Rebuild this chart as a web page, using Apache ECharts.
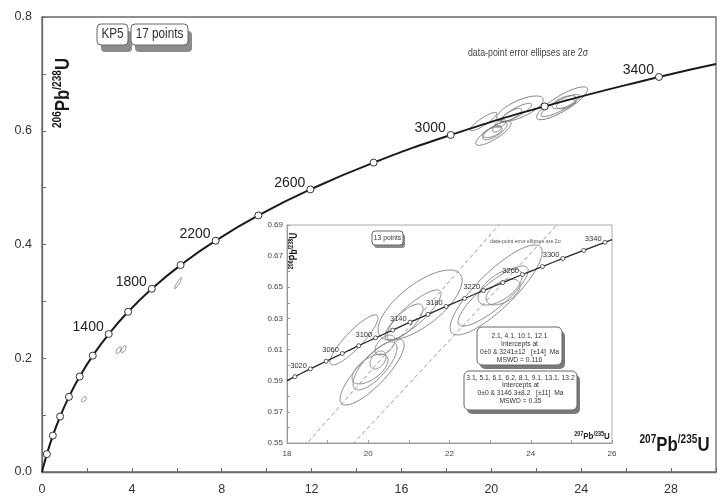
<!DOCTYPE html>
<html><head><meta charset="utf-8">
<script src="https://cdn.jsdelivr.net/npm/echarts@6/dist/echarts.min.js"></script>
<style>html,body{margin:0;padding:0;background:#fff}#c{width:722px;height:500px}</style>
</head><body><div id="c"></div>
<script>
const FONT = '"Liberation Sans", Arial, Helvetica, sans-serif';
const SQ = 0.84; // horizontal squeeze of the reference's lettering

// Concordia reference points: age (Ma), 207Pb/235U, 206Pb/238U
const concAges = [0, 100, 200, 400, 600, 800, 1000, 1200, 1400, 1600, 1800, 2000, 2200, 2400, 2600, 2800, 3000, 3200, 3400, 3487];
const concX = [0, 0.1035, 0.2177, 0.4828, 0.8056, 1.1987, 1.6774, 2.2603, 2.9701, 3.8344, 4.8869, 6.1685, 7.7292, 9.6296, 11.9437, 14.7617, 18.1931, 22.3716, 27.4597, 30.0];
const concY = [0, 0.01563, 0.03151, 0.0640, 0.0975, 0.1321, 0.1678, 0.2046, 0.2426, 0.2817, 0.3221, 0.3638, 0.4067, 0.4511, 0.4968, 0.5440, 0.5926, 0.6428, 0.6946, 0.7175];
const mainLabelAges = [1400, 1800, 2200, 2600, 3000, 3400];

// Inset concordia (20 Ma marks)
const insetAges = [2989.7, 3000, 3020, 3040, 3060, 3080, 3100, 3120, 3140, 3160, 3180, 3200, 3220, 3240, 3260, 3280, 3300, 3320, 3340, 3346.5];
const insetX = [18.0, 18.1931, 18.5749, 18.9642, 19.3614, 19.7664, 20.1795, 20.6008, 21.0305, 21.4687, 21.9156, 22.3715, 22.8364, 23.3105, 23.7941, 24.2873, 24.7903, 25.3034, 25.8266, 26.0];
const insetY = [0.5901, 0.5926, 0.5976, 0.6025, 0.6075, 0.6125, 0.6175, 0.6225, 0.6276, 0.6326, 0.6377, 0.6428, 0.6479, 0.6530, 0.6582, 0.6633, 0.6685, 0.6737, 0.6789, 0.6806];
const insetLabelAges = [3020, 3060, 3100, 3140, 3180, 3220, 3260, 3300, 3340];

// 13 clustered analyses: centre, 2-sigma half-extents, error correlation
const clusterX = [19.650, 20.094, 20.044, 20.241, 20.167, 21.276, 21.103, 20.906, 20.414, 23.148, 23.074, 23.246, 23.320];
const clusterY = [0.6162, 0.5956, 0.5975, 0.6033, 0.5995, 0.6386, 0.6322, 0.6277, 0.6129, 0.6483, 0.6444, 0.6502, 0.6470];
const clusterEx = [0.591, 0.788, 0.443, 0.197, 0.542, 1.034, 0.690, 0.443, 0.246, 1.133, 0.862, 0.542, 0.419];
const clusterEy = [0.0161, 0.0212, 0.0096, 0.0058, 0.0154, 0.0225, 0.0161, 0.0116, 0.0064, 0.0289, 0.0193, 0.0116, 0.0083];
const clusterRho = [0.88, 0.82, 0.60, 0.40, 0.75, 0.70, 0.85, 0.75, 0.50, 0.84, 0.85, 0.60, 0.50];

// 4 discordant analyses (main plot only)
const discX = [6.06, 3.41, 3.63, 1.87];
const discY = [0.332, 0.214, 0.2158, 0.128];
const discEx = [0.156, 0.11, 0.11, 0.11];
const discEy = [0.0096, 0.006, 0.006, 0.0044];
const discRho = [0.92, 0.6, 0.6, 0.5];

// Discordia upper intercepts (lower intercept 0)
const interceptAge = [3146.3, 3241];
const interceptX = [21.1676, 23.3345];
const interceptY = [0.62917, 0.65328];

const clusterData = clusterX.map((x, i) => [x, clusterY[i], clusterEx[i], clusterEy[i], clusterRho[i]]);
const discData = discX.map((x, i) => [x, discY[i], discEx[i], discEy[i], discRho[i]]);

function ellipseRender(color, lw) {
  return function (params, api) {
    const cx = api.value(0), cy = api.value(1), ex = api.value(2), ey = api.value(3), r = api.value(4);
    const s = Math.sqrt(1 - r * r);
    const pts = [];
    for (let k = 0; k < 96; k++) {
      const t = k / 96 * Math.PI * 2;
      pts.push(api.coord([cx + ex * Math.cos(t), cy + ey * (r * Math.cos(t) + s * Math.sin(t))]));
    }
    return { type: 'polygon', shape: { points: pts }, style: { fill: 'none', stroke: color, lineWidth: lw } };
  };
}

function richTitle(big, small) {
  return {
    b: { fontSize: big, fontWeight: 'bold', fontFamily: FONT, fill: '#1a1a1a', lineHeight: Math.round(big * 1.15) },
    s: { fontSize: small, fontWeight: 'bold', fontFamily: FONT, fill: '#1a1a1a', lineHeight: small, verticalAlign: 'top', textVerticalAlign: 'top' }
  };
}
function textEl(x, y, text, size, opts) {
  opts = opts || {};
  return {
    type: 'text', x: x, y: y, z: opts.z || 102, rotation: opts.rotation || 0, scaleX: SQ, scaleY: 1,
    style: Object.assign({
      text: text, fontSize: size, fontFamily: FONT, fill: opts.fill || '#333',
      align: 'center', textAlign: 'center', verticalAlign: 'middle', textVerticalAlign: 'middle'
    }, opts.style || {})
  };
}
function boxEls(x, y, w, h, r, sdx, sdy, shadow) {
  return [
    { type: 'rect', z: 100, shape: { x: x + sdx, y: y + sdy, width: w, height: h, r: r }, style: { fill: shadow } },
    { type: 'rect', z: 101, shape: { x: x, y: y, width: w, height: h, r: r }, style: { fill: '#fff', stroke: '#666', lineWidth: 1 } }
  ];
}

const mainMarkers = concAges.map((a, i) => [concX[i], concY[i], a]).filter(d => d[2] > 0 && d[2] % 200 === 0);
const insetMarkers = insetAges.map((a, i) => [insetX[i], insetY[i], a]).filter(d => d[2] % 20 === 0);

const chart = echarts.init(document.getElementById('c'), null, { renderer: 'canvas' });
chart.setOption({
  animation: false,
  backgroundColor: '#fff',
  grid: [
    { left: 42, top: 17, right: 6, bottom: 28, show: true, borderColor: '#6a6a6a', borderWidth: 1.3, backgroundColor: 'transparent', outerBoundsMode: 'none' },
    { left: 287, top: 225, width: 325, height: 218, show: true, borderColor: '#aaa', borderWidth: 1, backgroundColor: '#fff', outerBoundsMode: 'none' }
  ],
  xAxis: [
    { gridIndex: 0, type: 'value', min: 0, max: 30, interval: 2,
      axisLine: { show: true, onZero: false, lineStyle: { color: '#6a6a6a', width: 1.3 } },
      axisTick: { show: true, inside: true, length: 4, lineStyle: { color: '#6a6a6a' } },
      axisLabel: { margin: 11, fontSize: 12.5, color: '#333', fontFamily: FONT, formatter: v => (Math.round(v) % 4 === 0 ? String(Math.round(v)) : '') },
      splitLine: { show: false } },
    { gridIndex: 1, type: 'value', min: 18, max: 26, interval: 1,
      axisLine: { show: true, onZero: false, lineStyle: { color: '#999', width: 1 } },
      axisTick: { show: true, inside: true, length: 3, lineStyle: { color: '#999' } },
      axisLabel: { margin: 7, fontSize: 8, color: '#444', fontFamily: FONT, formatter: v => (Math.round(v) % 2 === 0 ? String(Math.round(v)) : '') },
      splitLine: { show: false } }
  ],
  yAxis: [
    { gridIndex: 0, type: 'value', min: 0, max: 0.8, interval: 0.1,
      axisLine: { show: true, onZero: false, lineStyle: { color: '#6a6a6a', width: 1.3 } },
      axisTick: { show: true, inside: true, length: 4, lineStyle: { color: '#6a6a6a' } },
      axisLabel: { margin: 10, fontSize: 12.5, color: '#333', fontFamily: FONT, formatter: v => (Math.round(v * 10) % 2 === 0 ? v.toFixed(1) : '') },
      splitLine: { show: false } },
    { gridIndex: 1, type: 'value', min: 0.55, max: 0.69, interval: 0.01,
      axisLine: { show: true, onZero: false, lineStyle: { color: '#999', width: 1 } },
      axisTick: { show: true, inside: true, length: 3, lineStyle: { color: '#999' } },
      axisLabel: { margin: 4, fontSize: 8, color: '#444', fontFamily: FONT, formatter: v => (Math.round(v * 100) % 2 === 1 ? v.toFixed(2) : '') },
      splitLine: { show: false } }
  ],
  series: [
    { type: 'custom', xAxisIndex: 0, yAxisIndex: 0, silent: true, z: 2,
      data: clusterData.concat(discData), renderItem: ellipseRender('#7d7d7d', 1) },
    { type: 'line', xAxisIndex: 0, yAxisIndex: 0, silent: true, z: 3, smooth: true, showSymbol: false,
      data: concX.map((x, i) => [x, concY[i]]), lineStyle: { color: '#1a1a1a', width: 2 } },
    { type: 'scatter', xAxisIndex: 0, yAxisIndex: 0, silent: true, z: 4, symbol: 'circle', symbolSize: 7,
      data: mainMarkers, itemStyle: { color: '#fff', borderColor: '#333', borderWidth: 1, opacity: 1 },
      label: { show: true, position: [-1, 4.5], align: 'right', verticalAlign: 'bottom', fontSize: 14, color: '#222', fontFamily: FONT,
        formatter: p => (mainLabelAges.indexOf(p.value[2]) >= 0 ? String(p.value[2]) : '') } },

    ...interceptX.map((x, i) => ({
      type: 'line', xAxisIndex: 1, yAxisIndex: 1, silent: true, z: 2, showSymbol: false, clip: true,
      data: [[0, 0], [x * 1.25, interceptY[i] * 1.25]],
      lineStyle: { color: '#9a9a9a', width: 1, type: [4, 3] }
    })),
    { type: 'custom', xAxisIndex: 1, yAxisIndex: 1, silent: true, z: 3,
      data: clusterData, renderItem: ellipseRender('#8a8a8a', 1) },
    { type: 'line', xAxisIndex: 1, yAxisIndex: 1, silent: true, z: 4, smooth: true, showSymbol: false,
      data: insetX.map((x, i) => [x, insetY[i]]), lineStyle: { color: '#2a2a2a', width: 1.3 } },
    { type: 'scatter', xAxisIndex: 1, yAxisIndex: 1, silent: true, z: 5, symbol: 'circle', symbolSize: 4,
      data: insetMarkers, itemStyle: { color: '#fff', borderColor: '#333', borderWidth: 0.8, opacity: 1 },
      label: { show: true, position: [-1, 3], align: 'right', verticalAlign: 'bottom', fontSize: 7.5, color: '#333', fontFamily: FONT,
        formatter: p => (insetLabelAges.indexOf(p.value[2]) >= 0 ? String(p.value[2]) : '') } }
  ],
  graphic: { elements: [
    ...boxEls(97, 24, 31, 21, 4, 4, 7, '#8c8c8c'),
    textEl(112.5, 34.5, 'KP5', 14),
    ...boxEls(131, 24, 57, 21, 4, 4, 7, '#8c8c8c'),
    textEl(159.5, 34.5, '17 points', 14),
    textEl(528, 53, 'data-point error ellipses are 2σ', 10.5, { fill: '#444' }),
    textEl(674.5, 445, '{s|207}{b|Pb}{s|/235}{b|U}', 20, { style: { rich: richTitle(20, 12) } }),
    textEl(63, 93, '{s|206}{b|Pb}{s|/238}{b|U}', 20, { rotation: Math.PI / 2, style: { rich: richTitle(20, 12) } }),

    ...boxEls(372, 231, 31, 14, 3, 2, 3, '#8c8c8c'),
    textEl(387.5, 238, '13 points', 8),
    textEl(525.5, 241, 'data-point error ellipses are 2σ', 6.2, { fill: '#555' }),
    ...boxEls(477, 327, 85, 38, 5, 3, 4, '#7a7a7a'),
    textEl(519.5, 347.5, '2.1, 4.1, 10.1, 12.1\nIntercepts at\n0±0 & 3241±12   [±14]  Ma\nMSWD = 0.116', 8, { style: { lineHeight: 8 } }),
    ...boxEls(464, 371, 113, 39, 5, 3, 4, '#7a7a7a'),
    textEl(520.5, 389, '3.1, 5.1, 6.1, 6.2, 8.1, 9.1, 13.1, 13.2\nIntercepts at\n0±0 & 3146.3±8.2   [±11]  Ma\nMSWD = 0.35', 8, { style: { lineHeight: 7.6 } }),
    textEl(592, 436, '{s|207}{b|Pb}{s|/235}{b|U}', 10, { style: { rich: richTitle(9.5, 6.5) } }),
    textEl(294, 251, '{s|206}{b|Pb}{s|/238}{b|U}', 10, { rotation: Math.PI / 2, style: { rich: richTitle(10, 6.5) } })
  ] }
});
</script>
</body></html>
